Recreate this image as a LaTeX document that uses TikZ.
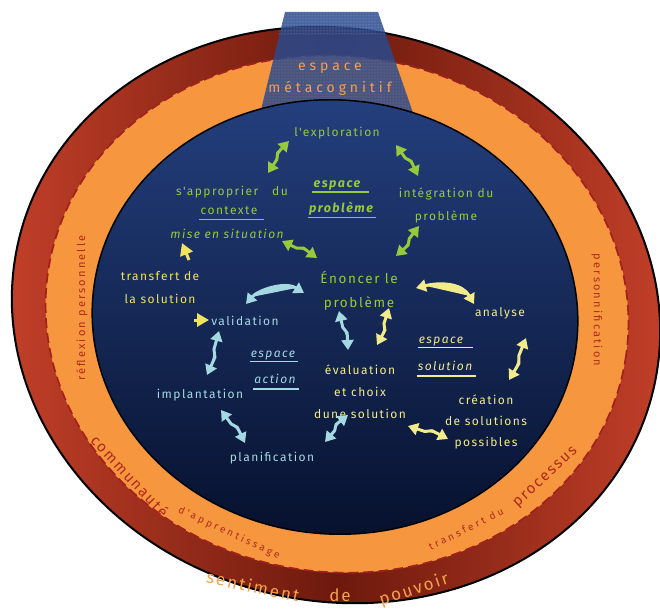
\documentclass[tikz,border=0pt]{standalone}
\usepackage{fontspec}
\setmainfont{Fira Sans}
\newfontfamily\df[LetterSpace=12]{Fira Sans}
\newfontfamily\mf[LetterSpace=28]{Fira Sans}
\newfontfamily\rf[LetterSpace=20]{Fira Sans}
\usetikzlibrary{arrows.meta,calc,patterns}
\definecolor{ringred}{HTML}{C8422A}
\definecolor{ringdark}{HTML}{6C190D}
\definecolor{bandor}{HTML}{F6963F}
\definecolor{dashred}{HTML}{A3201C}
\definecolor{bluetop}{HTML}{24407F}
\definecolor{bluebot}{HTML}{06102C}
\definecolor{trapblue}{HTML}{2A4A8E}
\definecolor{metaor}{HTML}{F5A04C}
\definecolor{gcol}{HTML}{97C93D}
\definecolor{bcol}{HTML}{A4D9E2}
\definecolor{ycol}{HTML}{F2EB8C}
\definecolor{ycolb}{HTML}{EFE35E}
\definecolor{bandtxt}{HTML}{B02A1B}
\definecolor{senttxt}{HTML}{F5A24A}
\tikzset{
  lbl/.style={inner sep=0pt, align=center, font=\df\fontsize{12}{23}\selectfont},
  lblit/.style={lbl, font=\df\itshape\fontsize{12}{23}\selectfont},
  lblbi/.style={lbl, font=\df\bfseries\itshape\fontsize{12.5}{23}\selectfont},
  bandlbl/.style={lbl, text=bandtxt, font=\rf\fontsize{11}{13}\selectfont},
  bandsm/.style={lbl, text=bandtxt, font=\mf\fontsize{10}{12}\selectfont},
  bandbig/.style={lbl, text=bandtxt, font=\df\fontsize{15}{16}\selectfont},
  ringlbl/.style={lbl, text=senttxt, font=\df\fontsize{17}{18}\selectfont},
  metalbl/.style={inner sep=0pt, align=center, text=metaor, font=\mf\fontsize{14}{22}\selectfont},
  uline/.style={line width=1.1pt},
  dbl/.style={line width=3pt, line join=round, {Triangle[length=10pt,width=12pt]}-{Triangle[length=10pt,width=12pt]}},
  zz/.style={to path={-- ($(\tikztostart)!0.42!(\tikztotarget)$) -- ($(\tikztostart)!0.58!(\tikztotarget)!3pt!90:(\tikztotarget)$) -- (\tikztotarget)}},
  garr/.style={dbl, draw=gcol, fill=gcol},
  barr/.style={dbl, draw=bcol, fill=bcol},
  yarr/.style={dbl, draw=ycol, fill=ycol},
  yhead/.style={line width=3pt, draw=ycolb, -{Triangle[length=12pt,width=13pt]}},
}
\begin{document}
\begin{tikzpicture}[x=1pt, y=-1pt]
\useasboundingbox (0,0) rectangle (660,610);
% outer ring
\path[shift={(336,315)}, rotate=-13, draw=black, line width=2pt, left color=ringred, right color=ringred, middle color=ringdark]
  (0,0) ellipse [x radius=326, y radius=286];
% orange band with dashed edge
\path[shift={(337,314)}, rotate=-8, fill=bandor] (0,0) ellipse [x radius=292, y radius=258];
\path[shift={(337,314)}, rotate=-8, draw=dashred, line width=1.7pt, dash pattern=on 10pt off 5pt] (0,0) ellipse [x radius=292, y radius=258];
% metacognitive trapezoid
\fill[trapblue, fill opacity=0.85] (285,12) -- (378,12) -- (419,130) -- (256,130) -- cycle;
\fill[pattern=dots, pattern color=white, fill opacity=0.45] (285,12) -- (378,12) -- (386,35) -- (277,35) -- cycle;
\fill[pattern=dots, pattern color=metaor, fill opacity=0.5] (270,60) -- (395,60) -- (419,130) -- (256,130) -- cycle;
% inner blue space
\path[shift={(335,317)}, rotate=-5, draw=black, line width=1.5pt, top color=bluetop, bottom color=bluebot]
  (0,0) ellipse [x radius=243, y radius=217];
\node[metalbl] (meta) at (330,79) {espace\\métacognitif};

% band texts
\node[bandlbl, rotate=90] (reflex) at (82,308) {réflexion personnelle};
\node[bandlbl, rotate=-90] (person) at (597,310) {personnification};
\node[bandbig, rotate=-47] (commu) at (130,476) {communauté};
\node[bandsm, rotate=-25] (appren) at (229,533) {d'apprentissage};
\node[bandsm, rotate=26] (transdu) at (466,529) {transfert du};
\node[bandbig, rotate=43] (proces) at (546,478) {processus};
% ring text
\node[ringlbl, rotate=-12] (senti) at (253,586) {sentiment};
\node[ringlbl] (de) at (340,595) {de};
\node[ringlbl, rotate=18] (pouv) at (414,590) {pouvoir};

% problem space (green)
\node[lbl, text=gcol] (explo) at (337,133) {l'exploration};
\node[lbl, text=gcol] (appro) at (232,192) {s'approprier\hspace{14pt}du};
\node[lbl, text=gcol] (ctx) at (229,211) {contexte};
\draw[uline, gcol] ([xshift=-1pt,yshift=-4pt]ctx.south west) -- ([xshift=6pt,yshift=-4pt]ctx.south east);
\node[lblit, text=gcol] (mise) at (227,234) {mise en situation};
\node[lblbi, text=gcol] (espP1) at (337,185) {espace};
\node[lblbi, text=gcol] (espP2) at (341,209) {problème};
\draw[uline, gcol] ([xshift=-1pt,yshift=-2pt]espP1.south west) -- ([xshift=8pt,yshift=-2pt]espP1.south east);
\draw[uline, gcol] ([xshift=-1pt,yshift=-2pt]espP2.south west) -- ([xshift=3pt,yshift=-2pt]espP2.south east);
\node[lbl, text=gcol] (integ) at (446,205) {intégration du\\problème};
\node[lbl, text=gcol, font=\df\fontsize{13.5}{24}\selectfont] (enonce) at (359,291) {Énoncer le\\problème};

% action space (light blue)
\node[lbl, text=bcol] (valid) at (245,321) {validation};
\node[lbl, text=bcol] (impl) at (200,395) {implantation};
\node[lbl, text=bcol] (plan) at (272,458) {planification};
\node[lblit, text=bcol] (espA1) at (273,356) {espace};
\node[lblit, text=bcol] (espA2) at (275,379) {action};
\draw[uline, bcol] ([xshift=-1pt,yshift=-1pt]espA1.south west) -- ([xshift=3pt,yshift=-1pt]espA1.south east);
\draw[uline, bcol] ([xshift=-1pt,yshift=-5pt]espA2.south west) -- ([xshift=3pt,yshift=-5pt]espA2.south east);

% solution space (yellow)
\node[lbl, text=ycolb] (transf) at (160,288) {transfert de\\la solution};
\node[lbl, text=ycol] (analyse) at (500,313) {analyse};
\node[lblit, text=ycol] (espS1) at (441,342) {espace};
\node[lblit, text=ycol] (espS2) at (445,366) {solution};
\draw[uline, ycol] ([xshift=-1pt,yshift=-1pt]espS1.south west) -- ([xshift=10pt,yshift=-1pt]espS1.south east);
\draw[uline, ycol] ([xshift=-1pt,yshift=-5pt]espS2.south west) -- ([xshift=4pt,yshift=-5pt]espS2.south east);
\node[lbl, text=ycol, font=\df\fontsize{12}{22}\selectfont] (evalu) at (360,392) {évaluation\\et choix\\dune solution};
\node[lbl, text=ycol, font=\df\fontsize{12}{21}\selectfont] (creat) at (486,422) {création\\de solutions\\possibles};

% arrow end points
\coordinate (g1a) at (268,173); \coordinate (g1b) at (289,141);
\coordinate (g2a) at (396,145); \coordinate (g2b) at (418,176);
\coordinate (g3a) at (419,226); \coordinate (g3b) at (396,256);
\coordinate (g4a) at (282,241); \coordinate (g4b) at (317,258);
\coordinate (b1a) at (246,304); \coordinate (b1b) at (304,293);
\coordinate (b2a) at (219,331); \coordinate (b2b) at (207,375);
\coordinate (b3a) at (221,410); \coordinate (b3b) at (245,443);
\coordinate (b4a) at (325,442); \coordinate (b4b) at (348,415);
\coordinate (b5a) at (339,311); \coordinate (b5b) at (348,350);
\coordinate (y1a) at (389,308); \coordinate (y1b) at (377,345);
\coordinate (y2a) at (416,288); \coordinate (y2b) at (474,304);
\coordinate (y3a) at (526,338); \coordinate (y3b) at (509,380);
\coordinate (y4a) at (408,426); \coordinate (y4b) at (448,439);
\coordinate (yh1a) at (189,260); \coordinate (yh1b) at (182,243);
\coordinate (yh2a) at (194,320); \coordinate (yh2b) at (209,320);

\draw[garr] (g1a) to[zz] (g1b);
\draw[garr] (g2a) to[zz] (g2b);
\draw[garr] (g3a) to[zz] (g3b);
\draw[garr] (g4a) to[zz] (g4b);
\draw[barr] (b1a) .. controls (258,290) and (285,281) .. (b1b);
\draw[barr] (b2a) to[zz] (b2b);
\draw[barr] (b3a) to[zz] (b3b);
\draw[barr] (b4a) to[zz] (b4b);
\draw[barr] (b5a) to[zz] (b5b);
\draw[yarr] (y1a) to[zz] (y1b);
\draw[yarr] (y2a) .. controls (440,282) and (462,283) .. (y2b);
\draw[yarr] (y3a) to[zz] (y3b);
\draw[yarr] (y4a) to[zz] (y4b);
\draw[yhead] (yh1a) -- (yh1b);
\draw[yhead] (yh2a) -- (yh2b);
\end{tikzpicture}
\end{document}
